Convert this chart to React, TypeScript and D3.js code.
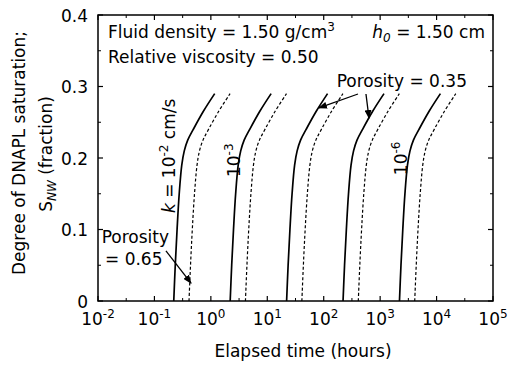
import React from 'react';
import * as d3 from 'd3';

// Saturation levels shared by all curves (fraction)
const yLevels = [0, 0.05, 0.1, 0.15, 0.19, 0.21, 0.225, 0.24, 0.265, 0.29];

// Elapsed time (hours) for porosity = 0.35 (solid)
const solidK2 = [0.22, 0.234, 0.252, 0.275, 0.305, 0.338, 0.389, 0.488, 0.733, 1.17];
const solidK3 = [2.2, 2.34, 2.52, 2.75, 3.05, 3.38, 3.89, 4.88, 7.33, 11.7];
const solidK4 = [22, 23.4, 25.2, 27.5, 30.5, 33.8, 38.9, 48.8, 73.3, 117];
const solidK5 = [220, 234, 252, 275, 305, 338, 389, 488, 733, 1170];
const solidK6 = [2200, 2340, 2520, 2750, 3050, 3380, 3890, 4880, 7330, 11700];

// Elapsed time (hours) for porosity = 0.65 (dashed)
const dashK2 = [0.41, 0.436, 0.469, 0.513, 0.569, 0.629, 0.726, 0.909, 1.37, 2.19];
const dashK3 = [4.1, 4.36, 4.69, 5.13, 5.69, 6.29, 7.26, 9.09, 13.7, 21.9];
const dashK4 = [41, 43.6, 46.9, 51.3, 56.9, 62.9, 72.6, 90.9, 137, 219];
const dashK5 = [410, 436, 469, 513, 569, 629, 726, 909, 1370, 2190];
const dashK6 = [4100, 4360, 4690, 5130, 5690, 6290, 7260, 9090, 13700, 21900];

const solidSeries = [solidK2, solidK3, solidK4, solidK5, solidK6];
const dashedSeries = [dashK2, dashK3, dashK4, dashK5, dashK6];

const xTickExps = [-2, -1, 0, 1, 2, 3, 4, 5];
const yTicks = [0, 0.1, 0.2, 0.3, 0.4];
const yTickLabels = ['0', '0.1', '0.2', '0.3', '0.4'];
const yMinorTicks = [0.05, 0.15, 0.25, 0.35];

// annotation anchors in data units [time, saturation]
const arrows035 = [
  [[405, 0.2895], [82.4, 0.27]],
  [[561, 0.2895], [634, 0.256]],
];
const arrow065 = [[0.16, 0.07], [0.445, 0.025]];

const W = 508;
const H = 367;
const FONT = '"DejaVu Sans", "Liberation Sans", Arial, sans-serif';

export default function App() {
  const x = d3.scaleLog().domain([1e-2, 1e5]).range([98, 493]);
  const y = d3.scaleLinear().domain([0, 0.4]).range([301, 15]);
  const [x0, x1] = x.range();
  const [yb, yt] = y.range();

  const line = d3
    .line<[number, number]>()
    .x((d) => x(d[0]))
    .y((d) => y(d[1]))
    .curve(d3.curveCatmullRom.alpha(0.5));

  const toPts = (ts: number[]) => ts.map((t, i) => [t, yLevels[i]] as [number, number]);

  const xMinor: number[] = [];
  for (let e = -2; e < 5; e++) xMinor.push(Math.pow(10, e + 0.5));

  const fs = 17;
  const sup = 12;

  return (
    <svg
      width={W}
      height={H}
      style={{ position: 'absolute', left: 0, top: 0, background: '#fff' }}
      fontFamily={FONT}
    >
      <defs>
        <marker
          id="ah"
          markerUnits="userSpaceOnUse"
          markerWidth={9}
          markerHeight={7}
          refX={8}
          refY={3.5}
          orient="auto"
        >
          <path d="M0,0 L9,3.5 L0,7 Z" fill="#000" />
        </marker>
      </defs>
      <rect x={0} y={0} width={W} height={H} fill="#fff" />

      {/* curves */}
      {solidSeries.map((ts, i) => (
        <path key={'s' + i} d={line(toPts(ts)) || ''} fill="none" stroke="#000" strokeWidth={1.7} />
      ))}
      {dashedSeries.map((ts, i) => (
        <path
          key={'d' + i}
          d={line(toPts(ts)) || ''}
          fill="none"
          stroke="#000"
          strokeWidth={1.2}
          strokeDasharray="3,2.2"
        />
      ))}

      {/* frame */}
      <rect x={x0} y={yt} width={x1 - x0} height={yb - yt} fill="none" stroke="#000" strokeWidth={1.5} />

      {/* x ticks */}
      {xTickExps.map((e) => {
        const px = x(Math.pow(10, e));
        return (
          <g key={'xt' + e}>
            <line x1={px} x2={px} y1={yb} y2={yb - 5} stroke="#000" strokeWidth={1.2} />
            <line x1={px} x2={px} y1={yt} y2={yt + 5} stroke="#000" strokeWidth={1.2} />
            <text x={px} y={325} textAnchor="middle" fontSize={fs}>
              10
              <tspan dy={-7} fontSize={sup}>
                {String(e)}
              </tspan>
            </text>
          </g>
        );
      })}
      {xMinor.map((v, i) => {
        const px = x(v);
        return (
          <g key={'xm' + i}>
            <line x1={px} x2={px} y1={yb} y2={yb - 3} stroke="#000" strokeWidth={1} />
            <line x1={px} x2={px} y1={yt} y2={yt + 3} stroke="#000" strokeWidth={1} />
          </g>
        );
      })}

      {/* y ticks */}
      {yTicks.map((v, i) => {
        const py = y(v);
        return (
          <g key={'yt' + i}>
            <line x1={x0} x2={x0 + 5} y1={py} y2={py} stroke="#000" strokeWidth={1.2} />
            <line x1={x1} x2={x1 - 5} y1={py} y2={py} stroke="#000" strokeWidth={1.2} />
            <text x={88} y={py + 6.5} textAnchor="end" fontSize={fs}>
              {yTickLabels[i]}
            </text>
          </g>
        );
      })}
      {yMinorTicks.map((v, i) => {
        const py = y(v);
        return (
          <g key={'ym' + i}>
            <line x1={x0} x2={x0 + 3} y1={py} y2={py} stroke="#000" strokeWidth={1} />
            <line x1={x1} x2={x1 - 3} y1={py} y2={py} stroke="#000" strokeWidth={1} />
          </g>
        );
      })}

      {/* axis titles */}
      <text x={303} y={357} textAnchor="middle" fontSize={fs}>
        Elapsed time (hours)
      </text>
      <text transform="translate(25,153) rotate(-90)" textAnchor="middle" fontSize={fs}>
        Degree of DNAPL saturation;
      </text>
      <text transform="translate(52,154) rotate(-90)" textAnchor="middle" fontSize={fs}>
        S
        <tspan dy={4} fontSize={12} fontStyle="italic">
          NW
        </tspan>
        <tspan dy={-4}> (fraction)</tspan>
      </text>

      {/* top-left info */}
      <text x={x(0.01503)} y={y(0.368)} fontSize={fs}>
        Fluid density = 1.50 g/cm
        <tspan dy={-7} fontSize={sup}>
          3
        </tspan>
      </text>
      <text x={x(0.01503)} y={y(0.333)} fontSize={fs}>
        Relative viscosity = 0.50
      </text>
      <text x={x(72100)} y={y(0.368)} textAnchor="end" fontSize={fs}>
        <tspan fontStyle="italic">h</tspan>
        <tspan dy={4} fontSize={12} fontStyle="italic">
          0
        </tspan>
        <tspan dy={-4}> = 1.50 cm</tspan>
      </text>

      {/* k labels */}
      <text transform={`translate(${x(0.2314)},${y(0.123)}) rotate(-90)`} fontSize={fs}>
        <tspan fontStyle="italic">k</tspan> = 10
        <tspan dy={-7} fontSize={sup}>
          -2
        </tspan>
        <tspan dy={7}> cm/s</tspan>
      </text>
      <text transform={`translate(${x(3.28)},${y(0.1734)}) rotate(-90)`} fontSize={fs}>
        10
        <tspan dy={-7} fontSize={sup}>
          -3
        </tspan>
      </text>
      <text transform={`translate(${x(2992)},${y(0.176)}) rotate(-90)`} fontSize={fs}>
        10
        <tspan dy={-7} fontSize={sup}>
          -6
        </tspan>
      </text>

      {/* porosity annotations */}
      <text x={x(170)} y={y(0.299)} fontSize={fs}>
        Porosity = 0.35
      </text>
      {arrows035.map((a, i) => (
        <line
          key={'a' + i}
          x1={x(a[0][0])}
          y1={y(a[0][1])}
          x2={x(a[1][0])}
          y2={y(a[1][1])}
          stroke="#000"
          strokeWidth={1.3}
          markerEnd="url(#ah)"
        />
      ))}
      <text x={x(0.0116)} y={y(0.081)} fontSize={fs}>
        Porosity
      </text>
      <text x={x(0.0133)} y={y(0.05)} fontSize={fs}>
        = 0.65
      </text>
      <line
        x1={x(arrow065[0][0])}
        y1={y(arrow065[0][1])}
        x2={x(arrow065[1][0])}
        y2={y(arrow065[1][1])}
        stroke="#000"
        strokeWidth={1.3}
        markerEnd="url(#ah)"
      />
    </svg>
  );
}
